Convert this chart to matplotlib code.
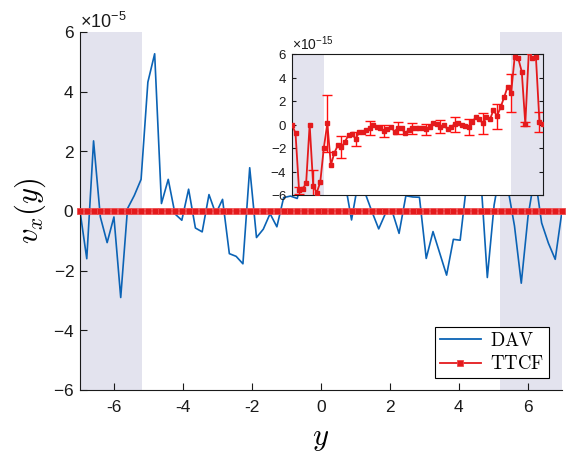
import numpy as np
import matplotlib
matplotlib.use('Agg')
import matplotlib.pyplot as plt
from matplotlib.font_manager import FontProperties

plt.rcParams['font.family'] = ['Liberation Sans', 'DejaVu Sans']
plt.rcParams['mathtext.fontset'] = 'custom'
plt.rcParams['mathtext.rm'] = 'Liberation Sans'
plt.rcParams['mathtext.it'] = 'Liberation Sans:italic'
plt.rcParams['axes.unicode_minus'] = False

# channel coordinate
y = np.linspace(-7, 7, 72)

# DAV velocity, units of 1e-5
dav = [0.0, -1.6, 2.35, -0.2, -1.06, -0.2, -2.9, 0.08, 0.52, 1.06,
       4.32, 5.27, 0.25, 1.06, -0.1, -0.31, 0.73, -0.57, -0.70, 0.55,
       -0.09, 0.39, -1.43, -1.52, -1.77, 1.45, -0.89, -0.61, -0.09, -0.53,
       0.45, 0.5, 0.42, 1.3, 0.8, 1.9, 0.9, 1.6, 0.7, 1.0,
       -0.30, 1.0, 0.6, -0.02, -0.6, -0.08, -0.02, -0.75, 0.51, 0.47,
       0.46, -1.59, -0.69, -1.42, -2.15, -0.95, -0.98, 1.0, 1.6, 1.25,
       -2.23, 0.2, 1.5, 0.8, -0.5, -2.42, -0.17, 1.2, -0.4, -1.08,
       -1.62, 0.0]

# TTCF velocity, units of 1e-15
ttcf = [0.0, -0.75, -5.6, -5.5, -5.0, 0.0, -5.2, -5.8, -4.9, -2.0,
        0.1, -3.45, -2.4, -1.75, -1.9, -1.46, -0.89, -0.84, -1.2, -0.67,
        -0.61, -0.47, -0.33, -0.04, -0.18, -0.27, -0.55, -0.38, -0.18, -0.61,
        -0.27, -0.33, -0.75, -0.47, -0.33, -0.27, -0.3, -0.3, -0.4, -0.18,
        0.16, 0.01, -0.18, -0.04, -0.41, -0.18, 0.01, 0.16, -0.04, -0.13,
        -0.24, 0.24, 0.61, 0.44, 0.1, 0.61, 0.44, 1.23, 0.72, 1.46,
        2.31, 3.22, 2.71, 5.77, 5.63, 4.5, 0.04, 6.2, 5.63, 5.77,
        0.24, 0.01]

# error bars drawn every 4th point starting at index 2
err_idx = list(range(2, 72, 4))
ttcf_err = [0.3, 1.3, 2.4, 0.92, 0.6, 0.6, 0.5, 0.5, 0.5,
            0.48, 0.54, 0.61, 0.68, 0.88, 1.06, 1.63, 0.14, 0.85]

shade = 5.2
shade_col = '#e3e3ee'
blue = '#0b63b5'
red = '#e41a1c'
txt = '#1a1a1a'

dav = np.array(dav) * 1e-5
ttcf = np.array(ttcf) * 1e-15
err = np.array(ttcf_err) * 1e-15

fig = plt.figure(figsize=(5.75, 4.67), dpi=100)
ax = fig.add_axes([0.1391, 0.1649, 0.8383, 0.7666])

ax.axvspan(-7, -shade, color=shade_col, lw=0, zorder=0)
ax.axvspan(shade, 7, color=shade_col, lw=0, zorder=0)
ax.plot(y, dav, color=blue, lw=1.2, label=r'$\mathrm{DAV}$', zorder=2)
ax.plot(y, ttcf, color=red, lw=1.4, marker='s', ms=5, mec='#ee4a4c', mew=0.6, mfc=red,
        label=r'$\mathrm{TTCF}$', zorder=3, clip_on=False)

ax.set_xlim(-7, 7)
ax.set_ylim(-6e-5, 6e-5)
ax.set_xticks(np.arange(-6, 7, 2))
ax.set_yticks(np.arange(-6, 7, 2) * 1e-5)
ax.ticklabel_format(axis='y', style='sci', scilimits=(0, 0), useMathText=True)
ax.yaxis.get_offset_text().set_fontsize(13)
ax.yaxis.get_offset_text().set_color(txt)
ax.tick_params(direction='in', length=5, labelsize=12.5, colors=txt, top=False, right=False)
ax.tick_params(axis='x', pad=7)
ax.tick_params(axis='y', pad=4)
for s in ['top', 'right']:
    ax.spines[s].set_visible(False)
for s in ['left', 'bottom']:
    ax.spines[s].set_color(txt)

ax.set_xlabel(r'$y$', fontsize=22, math_fontfamily='cm', labelpad=6)
ax.set_ylabel(r'$v_x(y)$', fontsize=22, math_fontfamily='cm', labelpad=4)

lp = FontProperties(size=13.5, math_fontfamily='cm')
leg = ax.legend(loc='lower right', prop=lp, fancybox=False, framealpha=1,
                edgecolor='black', borderpad=0.25, handlelength=2.2,
                handletextpad=0.5, labelspacing=0.3, borderaxespad=0,
                bbox_to_anchor=(0.973, 0.034))
leg.get_frame().set_linewidth(0.8)
for ln in leg.get_lines():
    ln.set_linewidth(1.3)
leg.get_lines()[1].set_markersize(4)

# inset
axi = fig.add_axes([0.5078, 0.5824, 0.4365, 0.3019])
axi.set_facecolor('white')
axi.axvspan(-7, -shade, color=shade_col, lw=0, zorder=0)
axi.axvspan(shade, 7, color=shade_col, lw=0, zorder=0)
axi.errorbar(y[err_idx], ttcf[err_idx], yerr=err, fmt='none', ecolor='#ff1010',
             elinewidth=1, capsize=3.5, capthick=1, zorder=2)
axi.plot(y, ttcf, color=red, lw=1.3, marker='s', ms=2.8, zorder=3)
axi.set_xlim(-7, 7)
axi.set_ylim(-6e-15, 6e-15)
axi.set_xticks([])
axi.set_yticks(np.arange(-6, 7, 2) * 1e-15)
axi.ticklabel_format(axis='y', style='sci', scilimits=(0, 0), useMathText=True)
axi.yaxis.get_offset_text().set_fontsize(10)
axi.yaxis.get_offset_text().set_color(txt)
axi.tick_params(direction='in', length=3, labelsize=9.5, colors=txt, right=True)
for s in axi.spines.values():
    s.set_color(txt)

fig.savefig('out.png', dpi=100)
